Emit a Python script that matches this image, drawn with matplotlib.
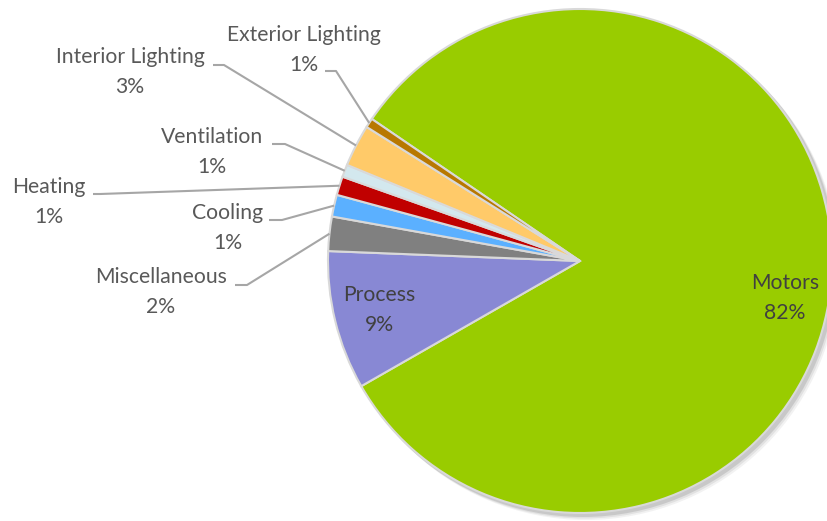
import numpy as np
import matplotlib
matplotlib.use("Agg")
import matplotlib.pyplot as plt
from matplotlib.patches import Circle

plt.rcParams['font.family'] = ['Lato', 'DejaVu Sans']

# data, clockwise from the Motors slice
labels = ['Motors', 'Process', 'Miscellaneous', 'Cooling', 'Heating',
          'Ventilation', 'Interior Lighting', 'Exterior Lighting']
values = [82.2, 8.9, 2.2, 1.4, 1.2, 0.8, 2.7, 0.6]
colors = ['#99CC00', '#8888D4', '#808080', '#5BB0FF', '#C00000',
          '#D3E8EE', '#FFCA69', '#B87800']

# layout in pixels (y measured from top of image)
W, H = 828, 521
cx, cy, R = 580, 261, 252
inside = {'Motors': (785, 298), 'Process': (379, 310)}
# text centre, start of the elbow next to the text
outside = {
    'Exterior Lighting': ((304, 50), (325, 71), (336, 71)),
    'Interior Lighting': ((130, 72), (213, 65), (224, 65)),
    'Ventilation': ((212, 152), (272, 144), (285, 144)),
    'Heating': ((49, 202), (93, 194), (100, 194)),
    'Cooling': ((228, 228), (269, 220), (282, 220)),
    'Miscellaneous': ((161, 292), (235, 285), (247, 285)),
}


def fy(y):
    return H - y


fig = plt.figure(figsize=(W / 100, H / 100), dpi=100)
ax = fig.add_axes([0, 0, 1, 1])

# soft shadow
for k, a in [(6, 0.10), (4.5, 0.15), (3, 0.25)]:
    ax.add_patch(Circle((cx + k, fy(cy) - k), R + 1, color='#808080',
                        alpha=a, lw=0, zorder=0))

wedges, _ = ax.pie(values, colors=colors, startangle=145.7, counterclock=False,
                   center=(cx, fy(cy)), radius=R, frame=True,
                   wedgeprops=dict(edgecolor='#D9D9D9', linewidth=1.5))

total = sum(values)
fs = 15.2
for w, lab, v in zip(wedges, labels, values):
    pct = f"{round(v / total * 100):.0f}%"
    mid = np.deg2rad((w.theta1 + w.theta2) / 2)
    px = cx + R * np.cos(mid)
    py = fy(cy) + R * np.sin(mid)
    if lab in inside:
        tx, ty = inside[lab]
        ax.text(tx, fy(ty), f"{lab}\n{pct}", ha='center', va='center',
                fontsize=fs, color='#404040', linespacing=1.6, zorder=5)
    else:
        (tx, ty), (sx, sy), (ex, ey) = outside[lab]
        ax.text(tx, fy(ty), f"{lab}\n{pct}", ha='center', va='center',
                fontsize=fs, color='#595959', linespacing=1.6, zorder=5)
        ax.plot([sx, ex, px], [fy(sy), fy(ey), py], color='#A6A6A6',
                lw=1.5, zorder=4, solid_capstyle='butt')

ax.set_xlim(0, W)
ax.set_ylim(0, H)
ax.set_aspect('equal')
ax.axis('off')
fig.savefig('out.png', dpi=100)
